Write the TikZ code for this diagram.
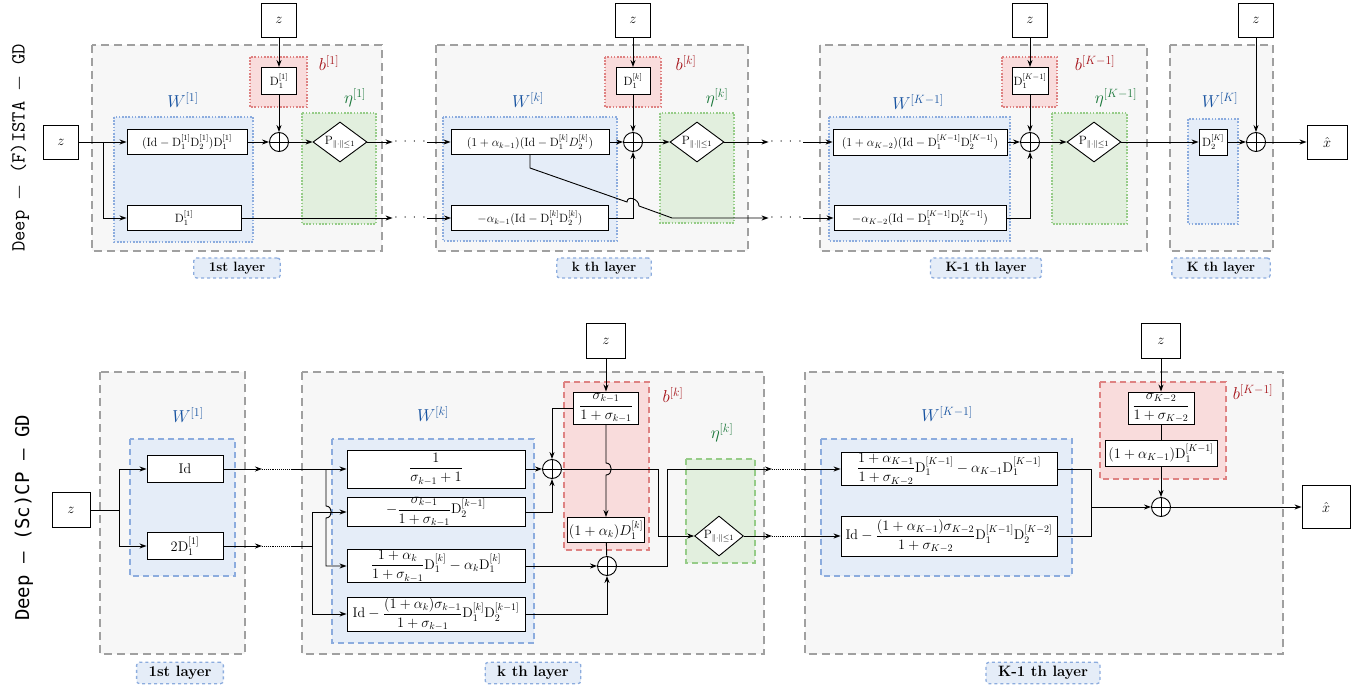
\documentclass[tikz,border=0pt]{standalone}
\usepackage{amsmath}
\usepackage{amsfonts}
\usepackage{fontspec}
\newfontfamily\monosans{DejaVu Sans Mono}
\usetikzlibrary{arrows.meta,shapes.geometric}

\definecolor{wcol}{RGB}{22,82,160}
\definecolor{bcol}{RGB}{165,18,24}
\definecolor{ecol}{RGB}{24,118,56}
\definecolor{wfill}{RGB}{229,237,248}
\definecolor{wline}{RGB}{140,172,222}
\definecolor{bfill}{RGB}{249,220,220}
\definecolor{bline}{RGB}{222,130,130}
\definecolor{efill}{RGB}{226,239,222}
\definecolor{eline}{RGB}{150,204,136}
\definecolor{lfill}{RGB}{247,247,247}
\definecolor{lline}{RGB}{160,160,160}

\tikzset{
  layer/.style={draw=lline, fill=lfill, line width=1.6pt, dash pattern=on 8pt off 5pt},
  dotreg/.style={line width=1.6pt, dash pattern=on 1.6pt off 1.6pt},
  dashreg/.style={line width=1.5pt, dash pattern=on 6pt off 4pt},
  wreg/.style={draw=wline, fill=wfill},
  breg/.style={draw=bline, fill=bfill},
  ereg/.style={draw=eline, fill=efill},
  blk/.style={draw, fill=white, inner sep=2pt},
  zbox/.style={blk, minimum width=35pt, minimum height=34pt, font=\fontsize{14}{17}\selectfont},
  adder/.style={circle, draw, fill=white, minimum size=19pt, inner sep=0pt,
    path picture={\draw (path picture bounding box.north) -- (path picture bounding box.south)
      (path picture bounding box.west) -- (path picture bounding box.east);}},
  proj/.style={diamond, draw, fill=white, aspect=1.35, inner sep=0.5pt,
    minimum width=54pt, minimum height=40pt, font=\large},
  dotsnode/.style={inner sep=0pt, minimum width=34pt},
  wlab/.style={text=wcol, font=\fontsize{18}{21}\selectfont},
  blab/.style={text=bcol, font=\fontsize{18}{21}\selectfont},
  elab/.style={text=ecol, font=\fontsize{18}{21}\selectfont},
  laybox/.style={draw=wline, fill=wfill, dashed, line width=1.3pt, rounded corners=3pt,
    font=\fontsize{13.5}{16}\selectfont\bfseries, inner xsep=15pt, inner ysep=4pt},
  rowlab/.style={rotate=90, font=\fontsize{20}{24}\selectfont},
}

\newcommand{\fourdots}{$\cdotp$\hspace{6pt}$\cdotp$\hspace{6pt}$\cdotp$\hspace{6pt}$\cdotp$}

\begin{document}
\begin{tikzpicture}[x=1pt, y=-1pt, line width=0.9pt, >={Stealth[length=7pt,width=5pt]}, font=\large]
  \useasboundingbox (0,0) rectangle (1370,690);

  % ---------------- (F)ISTA row ----------------
  \node[rowlab] (ra) at (20,148) {\ttfamily Deep $-$ (F)ISTA $-$ GD};

  % layer 1
  \draw[layer] (92,45) rectangle (382,251);
  \draw[wreg,dotreg] (114,117) rectangle (253,242);
  \draw[breg,dotreg] (250,57) rectangle (307,107);
  \draw[ereg,dotreg] (302,113) rectangle (376,224);
  \node[wlab] (w1) at (183,100) {$W^{[1]}$};
  \node[blab] (b1) at (329,63) {$b^{[1]}$};
  \node[elab] (e1) at (355,98) {$\eta^{[1]}$};
  \node[zbox] (z0) at (61,142) {$z$};
  \coordinate (j0) at (103,142);
  \node[blk, minimum width=120pt, minimum height=25pt] (a1) at (187,142) {$(\mathrm{Id}-\mathrm{D}_1^{[1]}\mathrm{D}_2^{[1]})\mathrm{D}_1^{[1]}$};
  \node[blk, minimum width=114pt, minimum height=25pt] (c1) at (184,218) {$\mathrm{D}_1^{[1]}$};
  \node[zbox] (zt1) at (279,20) {$z$};
  \node[blk, minimum width=35pt, minimum height=27pt] (d1) at (279,81) {$\mathrm{D}_1^{[1]}$};
  \node[adder] (s1) at (279,142) {};
  \node[proj] (p1) at (340,142) {$\mathrm{P}_{\|\cdot\|\le 1}$};
  \node[dotsnode] (g1) at (410,142) {\fourdots};
  \node[dotsnode] (g1b) at (410,218) {\fourdots};
  \node[laybox] (n1) at (237,268) {1st layer};

  \draw (z0) -- (j0);
  \draw[->] (j0) -- (a1);
  \draw[->] (j0) |- (c1);
  \draw[->] (zt1) -- (d1);
  \draw[->] (d1) -- (s1);
  \draw[->] (a1) -- (s1);
  \draw[->] (s1) -- (p1);
  \draw[->] (p1) -- (g1);
  \draw[->] (c1) -- (g1b);

  % layer k
  \draw[layer] (436,45) rectangle (748,251);
  \draw[wreg,dotreg] (443,117) rectangle (617,241);
  \draw[breg,dotreg] (605,57) rectangle (661,107);
  \draw[ereg,dotreg] (660,113) rectangle (734,223);
  \node[wlab] (w2) at (528,100) {$W^{[k]}$};
  \node[blab] (b2) at (686,63) {$b^{[k]}$};
  \node[elab] (e2) at (717,98) {$\eta^{[k]}$};
  \node[blk, minimum width=158pt, minimum height=25pt] (a2) at (530,142) {$(1+\alpha_{k-1})(\mathrm{Id}-\mathrm{D}_1^{[k]}D_2^{[k]})$};
  \node[blk, minimum width=157pt, minimum height=25pt] (c2) at (530,218) {$-\alpha_{k-1}(\mathrm{Id}-\mathrm{D}_1^{[k]}\mathrm{D}_2^{[k]})$};
  \node[zbox] (zt2) at (633,20) {$z$};
  \node[blk, minimum width=34pt, minimum height=27pt] (d2) at (633,81) {$\mathrm{D}_1^{[k]}$};
  \node[adder] (s2) at (633,142) {};
  \node[proj] (p2) at (697,142) {$\mathrm{P}_{\|\cdot\|\le 1}$};
  \node[dotsnode] (g2) at (786,142) {\fourdots};
  \node[dotsnode] (g2b) at (786,218) {\fourdots};
  \node[laybox] (n2) at (604,268) {k th layer};

  \draw[->] (g1) -- (a2);
  \draw[->] (g1b) -- (c2);
  \draw[->] (zt2) -- (d2);
  \draw[->] (d2) -- (s2);
  \draw[->] (a2) -- (s2);
  \draw[->] (c2) -| (s2);
  \draw[->] (s2) -- (p2);
  \draw[->] (p2) -- (g2);
  \draw[->] (a2.south) -- (530,168) -- (627,202) .. controls (627,195) and (639,199) .. (639,206) -- (672,218) -- (g2b);

  % layer K-1
  \draw[layer] (820,45) rectangle (1147,251);
  \draw[wreg,dotreg] (829,117) rectangle (1010,241);
  \draw[breg,dotreg] (1002,57) rectangle (1057,107);
  \draw[ereg,dotreg] (1052,113) rectangle (1127,224);
  \node[wlab] (w3) at (918,102) {$W^{[K-1]}$};
  \node[blab] (b3) at (1095,63) {$b^{[K-1]}$};
  \node[elab] (e3) at (1116,98) {$\eta^{[K-1]}$};
  \node[blk, minimum width=174pt, minimum height=26pt] (a3) at (920,142) {$(1+\alpha_{K-2})(\mathrm{Id}-\mathrm{D}_1^{[K-1]}\mathrm{D}_2^{[K-1]})$};
  \node[blk, minimum width=172pt, minimum height=25pt] (c3) at (920,218) {$-\alpha_{K-2}(\mathrm{Id}-\mathrm{D}_1^{[K-1]}\mathrm{D}_2^{[K-1]})$};
  \node[zbox] (zt3) at (1030,20) {$z$};
  \node[blk, minimum width=36pt, minimum height=27pt, inner sep=1pt] (d3) at (1030,81) {$\mathrm{D}_1^{[K-1]}$};
  \node[adder] (s3) at (1030,142) {};
  \node[proj] (p3) at (1094,142) {$\mathrm{P}_{\|\cdot\|\le 1}$};
  \node[laybox] (n3) at (986,268) {K-1 th layer};

  \draw[->] (g2) -- (a3);
  \draw[->] (g2b) -- (c3);
  \draw[->] (zt3) -- (d3);
  \draw[->] (d3) -- (s3);
  \draw[->] (a3) -- (s3);
  \draw[->] (c3) -| (s3);
  \draw[->] (s3) -- (p3);

  % layer K
  \draw[layer] (1170,45) rectangle (1273,251);
  \draw[wreg,dotreg] (1188,119) rectangle (1238,224);
  \node[wlab] (w4) at (1220,100) {$W^{[K]}$};
  \node[blk, minimum width=28pt, minimum height=26pt, inner sep=1pt] (a4) at (1213,142) {$\mathrm{D}_2^{[K]}$};
  \node[adder] (s4) at (1256,142) {};
  \node[zbox] (zt4) at (1256,20) {$z$};
  \node[zbox, minimum width=40pt, minimum height=34pt] (xh1) at (1327,142) {$\hat{x}$};
  \node[laybox] (n4) at (1221,268) {K th layer};

  \draw[->] (p3) -- (a4);
  \draw[->] (a4) -- (s4);
  \draw[->] (zt4) -- (s4);
  \draw[->] (s4) -- (xh1);

  % ---------------- (Sc)CP row ----------------
  \node[rowlab, font=\fontsize{19}{23}\selectfont] (rb) at (24,518) {\monosans Deep — (Sc)CP — GD};

  \begin{scope}[font=\fontsize{14}{17}\selectfont, laybox/.append style={font=\fontsize{15}{18}\selectfont\bfseries, inner xsep=12pt}]
  % layer 1
  \draw[layer] (100,372) rectangle (245,654);
  \draw[wreg,dashreg] (130,439) rectangle (235,576);
  \node[wlab] (v1) at (188,415) {$W^{[1]}$};
  \node[zbox, minimum width=38pt, minimum height=35pt] (y0) at (71,510) {$z$};
  \coordinate (h0) at (119,510);
  \node[blk, minimum width=76pt, minimum height=27pt] (f1) at (185,469) {$\mathrm{Id}$};
  \node[blk, minimum width=76pt, minimum height=27pt] (f2) at (185,546) {$2\mathrm{D}_1^{[1]}$};
  \coordinate (t1) at (262,469);
  \coordinate (t2) at (262,546);
  \coordinate (r1) at (292,469);
  \coordinate (r2) at (292,546);
  \node[laybox] (m1) at (180,673) {1st layer};

  \draw (y0) -- (h0);
  \draw[->] (h0) |- (f1);
  \draw[->] (h0) |- (f2);
  \draw[->] (f1) -- (t1);
  \draw[->] (f2) -- (t2);
  \draw[densely dotted] (t1) -- (r1);
  \draw[densely dotted] (t2) -- (r2);

  % layer k
  \draw[layer] (302,372) rectangle (764,654);
  \draw[wreg,dashreg] (332,439) rectangle (534,643);
  \draw[breg,dashreg] (564,382) rectangle (649,550);
  \draw[ereg,dashreg] (686,459) rectangle (755,563);
  \node[wlab] (vk) at (433,414) {$W^{[k]}$};
  \node[blab] (uk) at (673,395) {$b^{[k]}$};
  \node[elab] (hk) at (722,433) {$\eta^{[k]}$};
  \coordinate (jt) at (326,469);
  \coordinate (jb) at (312,546);
  \node[blk, minimum width=178pt, minimum height=38pt] (kb1) at (436,469) {$\dfrac{1}{\sigma_{k-1}+1}$};
  \node[blk, minimum width=178pt, minimum height=29pt, inner sep=0pt] (kb2) at (436,512) {$-\dfrac{\sigma_{k-1}}{1+\sigma_{k-1}}\mathrm{D}_2^{[k-1]}$};
  \node[blk, minimum width=178pt, minimum height=33pt, inner sep=0pt] (kb3) at (436,566) {$\dfrac{1+\alpha_k}{1+\sigma_{k-1}}\mathrm{D}_1^{[k]}-\alpha_k\mathrm{D}_1^{[k]}$};
  \node[blk, minimum width=178pt, minimum height=34pt, inner sep=0pt] (kb4) at (436,614) {$\mathrm{Id}-\dfrac{(1+\alpha_k)\sigma_{k-1}}{1+\sigma_{k-1}}\mathrm{D}_1^{[k]}\mathrm{D}_2^{[k-1]}$};
  \node[adder] (ks1) at (552,469) {};
  \node[adder] (ks2) at (607,566) {};
  \node[zbox, minimum width=39pt, minimum height=35pt] (kz) at (606,341) {$z$};
  \node[blk, minimum width=65pt, minimum height=32pt, inner sep=0pt] (kf) at (606,408) {$\dfrac{\sigma_{k-1}}{1+\sigma_{k-1}}$};
  \node[blk, minimum width=77pt, minimum height=25pt, inner sep=1pt] (kg) at (606,530) {$(1+\alpha_k)D_1^{[k]}$};
  \node[proj, minimum width=47pt, minimum height=40pt] (kp) at (719,536) {$\mathrm{P}_{\|\cdot\|\le 1}$};
  \coordinate (kc1) at (658,536);
  \coordinate (kc2) at (667,469);
  \coordinate (ko1) at (772,469);
  \coordinate (ko2) at (772,536);
  \coordinate (kr1) at (801,469);
  \coordinate (kr2) at (801,536);
  \node[laybox] (m2) at (533,673) {k th layer};

  \draw (r1) -- (jt);
  \draw[->] (jt) -- (kb1);
  \draw[->] (jt) -- (326,506) .. controls (333,506) and (333,518) .. (326,518) |- (kb3);
  \draw (r2) -- (jb);
  \draw[->] (jb) |- (kb2);
  \draw[->] (jb) |- (kb4);
  \draw[->] (kb1) -- (ks1);
  \draw[->] (kb2) -| (ks1);
  \draw[->] (kz) -- (kf);
  \draw[->] (kf) -| (ks1);
  \draw[->] (kf) -- (606,463) .. controls (613,463) and (613,475) .. (606,475) -- (kg);
  \draw (kg) -- (ks2);
  \draw[->] (kb3) -- (ks2);
  \draw[->] (kb4) -| (ks2);
  \draw[->] (ks1) -| (kc1) -- (kp);
  \draw[->] (ks2) -| (kc2) -- (ko1);
  \draw[->] (kp) -- (ko2);
  \draw[densely dotted] (ko1) -- (kr1);
  \draw[densely dotted] (ko2) -- (kr2);

  % layer K-1
  \draw[layer] (805,372) rectangle (1283,654);
  \draw[wreg,dashreg] (821,439) rectangle (1072,576);
  \draw[breg,dashreg] (1100,382) rectangle (1226,479);
  \node[wlab] (vK) at (947,414) {$W^{[K-1]}$};
  \node[blab] (uK) at (1253,392) {$b^{[K-1]}$};
  \node[blk, minimum width=216pt, minimum height=33pt, inner sep=0pt] (Ka) at (949,469) {$\dfrac{1+\alpha_{K-1}}{1+\sigma_{K-2}}\mathrm{D}_1^{[K-1]}-\alpha_{K-1}\mathrm{D}_1^{[K-1]}$};
  \node[blk, minimum width=216pt, minimum height=40pt, inner sep=0pt] (Kb) at (949,536) {$\mathrm{Id}-\dfrac{(1+\alpha_{K-1})\sigma_{K-2}}{1+\sigma_{K-2}}\mathrm{D}_1^{[K-1]}\mathrm{D}_2^{[K-2]}$};
  \coordinate (Kj) at (1091,507);
  \node[adder] (Ks) at (1161,507) {};
  \node[zbox, minimum width=39pt, minimum height=35pt] (Kz) at (1161,341) {$z$};
  \node[blk, minimum width=66pt, minimum height=32pt, inner sep=0pt] (Kf) at (1161,408) {$\dfrac{\sigma_{K-2}}{1+\sigma_{K-2}}$};
  \node[blk, minimum width=112pt, minimum height=26pt, inner sep=1pt] (Kg) at (1161,453) {$(1+\alpha_{K-1})\mathrm{D}_1^{[K-1]}$};
  \node[zbox, minimum width=48pt, minimum height=43pt] (xh2) at (1326,507) {$\hat{x}$};
  \node[laybox] (m3) at (1043,673) {K-1 th layer};

  \draw[->] (kr1) -- (Ka);
  \draw[->] (kr2) -- (Kb);
  \draw (Ka) -| (Kj);
  \draw (Kb) -| (Kj);
  \draw[->] (Kj) -- (Ks);
  \draw[->] (Kz) -- (Kf);
  \draw (Kf) -- (Kg);
  \draw[->] (Kg) -- (Ks);
  \draw[->] (Ks) -- (xh2);
  \end{scope}
\end{tikzpicture}
\end{document}
